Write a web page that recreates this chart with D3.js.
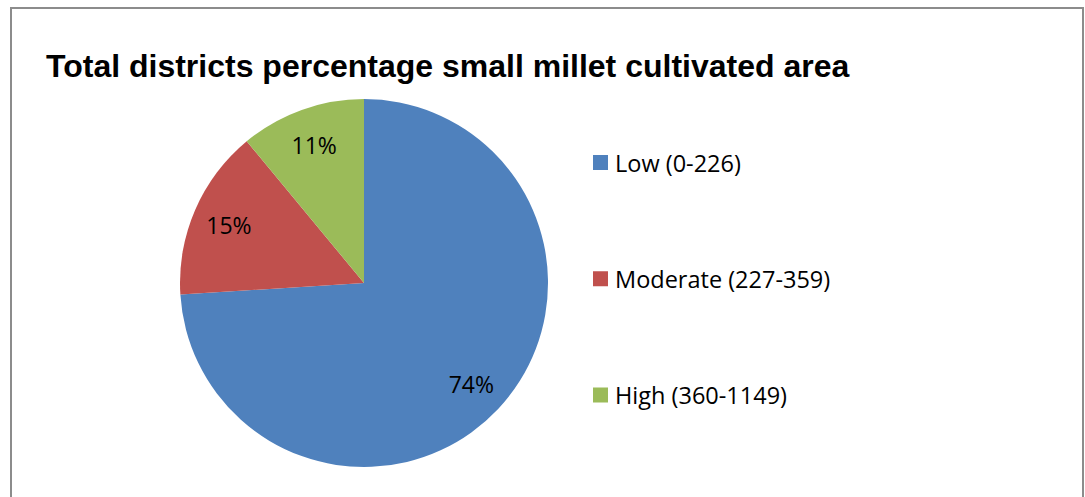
<!DOCTYPE html>
<html>
<head>
<meta charset="utf-8">
<script src="https://cdn.jsdelivr.net/npm/d3@7"></script>
<style>
  html, body { margin: 0; padding: 0; background: #fff; }
  svg { display: block; }
</style>
</head>
<body>
<svg id="chart" width="1085" height="497"></svg>
<script>
// Share of districts by small millet cultivated area class
const categories = ["Low (0-226)", "Moderate (227-359)", "High (360-1149)"];
const values = [74, 15, 11];
const colors = ["#4F81BD", "#C0504D", "#9BBB59"];
const titleText = "Total districts percentage small millet cultivated area";

const svg = d3.select("#chart");

// chart frame
svg.append("rect")
  .attr("x", 11).attr("y", 8)
  .attr("width", 1072).attr("height", 520)
  .attr("fill", "#fff")
  .attr("stroke", "#8c8c8c")
  .attr("stroke-width", 2);

svg.append("text")
  .attr("x", 46).attr("y", 77)
  .attr("font-family", "Liberation Sans, Arial, sans-serif")
  .attr("font-weight", "bold")
  .attr("font-size", 32)
  .attr("fill", "#000")
  .text(titleText);

const cx = 364, cy = 283, r = 184;
const pie = d3.pie().sort(null).value(d => d)(values);
const arc = d3.arc().innerRadius(0).outerRadius(r);
const labelArc = d3.arc().innerRadius(r * 0.8).outerRadius(r * 0.8);

const g = svg.append("g").attr("transform", `translate(${cx},${cy})`);
g.selectAll("path.slice")
  .data(pie)
  .join("path")
  .attr("class", "slice")
  .attr("d", arc)
  .attr("fill", (d, i) => colors[i]);

g.selectAll("text.pct")
  .data(pie)
  .join("text")
  .attr("class", "pct")
  .attr("transform", d => `translate(${labelArc.centroid(d)})`)
  .attr("text-anchor", "middle")
  .attr("dominant-baseline", "central")
  .attr("font-family", "Open Sans, Carlito, sans-serif")
  .attr("font-size", 23)
  .attr("fill", "#000")
  .text(d => d.data + "%");

// legend
const legendY = d3.scalePoint().domain(categories).range([162.5, 395]);
const items = svg.append("g").selectAll("g.item")
  .data(categories)
  .join("g")
  .attr("class", "item")
  .attr("transform", d => `translate(593,${legendY(d)})`);
items.append("rect")
  .attr("x", 0).attr("y", -7.5)
  .attr("width", 15).attr("height", 15)
  .attr("fill", (d, i) => colors[i]);
items.append("text")
  .attr("x", 22).attr("y", 0)
  .attr("dominant-baseline", "central")
  .attr("font-family", "Open Sans, Carlito, sans-serif")
  .attr("font-size", 23.5)
  .attr("fill", "#000")
  .text(d => d);
</script>
</body>
</html>
